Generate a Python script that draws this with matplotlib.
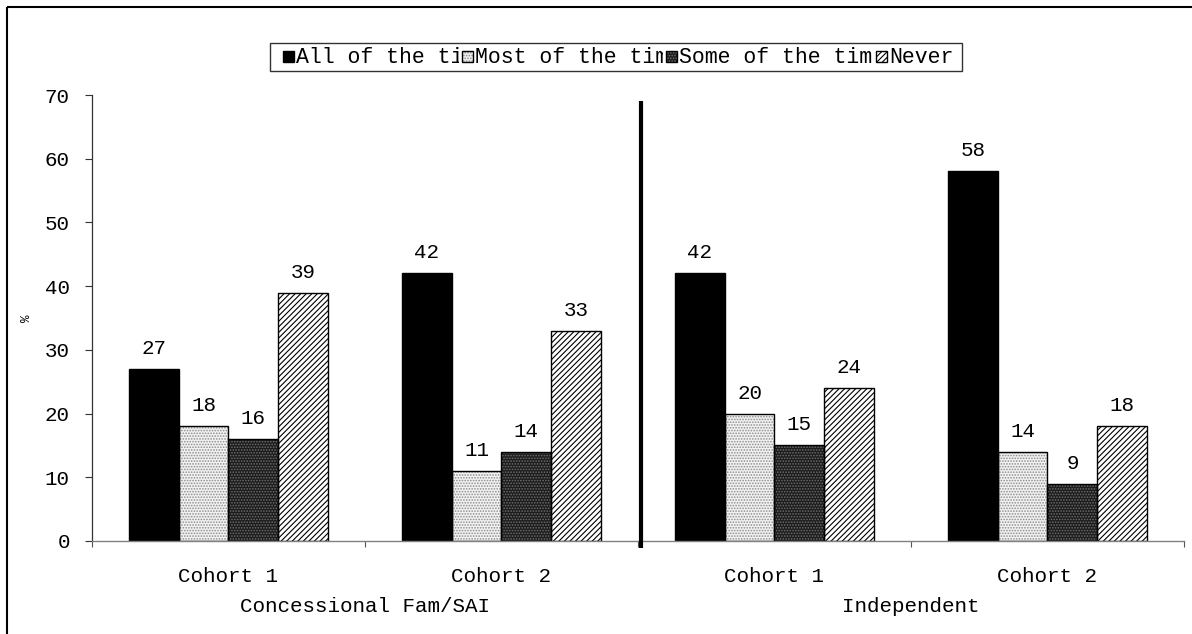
import matplotlib
matplotlib.use("Agg")
import matplotlib.pyplot as plt
from matplotlib.patches import Rectangle
from matplotlib.transforms import Bbox
import numpy as np

# ---- data -------------------------------------------------------------
categories = ["Cohort 1", "Cohort 2", "Cohort 1", "Cohort 2"]
groups = ["Concessional Fam/SAI", "Independent"]
series_names = ["All of the time", "Most of the time", "Some of the time", "Never"]
all_of_time = [27, 42, 42, 58]
most_of_time = [18, 11, 20, 14]
some_of_time = [16, 14, 15, 9]
never = [39, 33, 24, 18]
y_ticks = [0, 10, 20, 30, 40, 50, 60, 70]

series_values = [all_of_time, most_of_time, some_of_time, never]

# ---- styling ----------------------------------------------------------
FONT = ["Liberation Mono", "DejaVu Sans Mono"]
FS = 15
FS_LEG = 15.5
plt.rcParams["font.family"] = FONT
plt.rcParams["hatch.linewidth"] = 0.8

styles = [
    dict(face="black", hatch=None, hcolor=None),
    dict(face="#f2f2f2", hatch="......", hcolor="#8c8c8c"),
    dict(face="#1c1c1c", hatch="......", hcolor="#6e6e6e"),
    dict(face="white", hatch="//////", hcolor="black"),
]

W, H = 1192, 634
fig = plt.figure(figsize=(W / 100, H / 100), dpi=100)
ax = fig.add_axes([92 / W, 1 - 541 / H, 1092 / W, 446 / H])

n_cat = len(categories)
n_ser = len(series_values)
bar_w = 0.1825
centers = np.arange(n_cat) + 0.5


def layered_bar(axis, x, h, w, st, z=2):
    axis.bar(x, h, w, color=st["face"], edgecolor="none", linewidth=0, zorder=z)
    if st["hatch"]:
        axis.bar(x, h, w, color="none", edgecolor=st["hcolor"], hatch=st["hatch"],
                 linewidth=0, zorder=z + 0.1)
    axis.bar(x, h, w, color="none", edgecolor="black", linewidth=1.0, zorder=z + 0.2)


for i, (vals, st) in enumerate(zip(series_values, styles)):
    xs = centers + (i - (n_ser - 1) / 2) * bar_w
    layered_bar(ax, xs, vals, bar_w, st)
    for x, v in zip(xs, vals):
        ax.annotate(str(v), (x, v), xytext=(0, 10.8), textcoords="offset points",
                    ha="center", va="baseline", fontsize=FS, color="black")

ax.set_xlim(0, n_cat)
ax.set_ylim(0, 70)

for side in ("top", "right"):
    ax.spines[side].set_visible(False)
ax.spines["left"].set_color("#333333")
ax.spines["left"].set_linewidth(0.9)
ax.spines["bottom"].set_color("#808080")
ax.spines["bottom"].set_linewidth(1.0)

ax.set_yticks(y_ticks)
ax.set_yticklabels([str(t) for t in y_ticks], fontsize=FS)
ax.tick_params(axis="y", direction="out", length=5, width=0.8, color="#333333", pad=11)

# category boundary ticks and centred category labels
ax.set_xticks(np.arange(n_cat + 1))
ax.set_xticklabels([])
ax.tick_params(axis="x", which="major", direction="out", length=4.5, width=0.8, color="#555555")
ax.set_xticks(centers, minor=True)
ax.set_xticklabels(categories, minor=True, fontsize=FS)
ax.tick_params(axis="x", which="minor", length=0, pad=19)

# group labels under the category labels
for gi, g in enumerate(groups):
    gx = (centers[2 * gi] + centers[2 * gi + 1]) / 2
    ax.text(gx, -10.3, g, ha="center", va="center", fontsize=FS,
            transform=ax.transData, clip_on=False)

# divider between the two groups
ax.plot([2.01, 2.01], [-1.1, 69.0], color="black", linewidth=3.0,
        clip_on=False, zorder=5, solid_capstyle="butt")

fig.text(27 / W, 1 - 318 / H, "%", rotation=90, ha="center", va="center", fontsize=9)

# overlay axes in pixel coordinates for frame and legend
lax = fig.add_axes([0, 0, 1, 1], facecolor="none")
lax.set_xlim(0, W)
lax.set_ylim(H, 0)
lax.axis("off")

# outer frame (only its left and top edges fall inside the canvas)
lax.add_patch(Rectangle((7, 7), W + 50, H + 50, facecolor="none", edgecolor="black",
                        linewidth=1.5, clip_on=False))

# legend box: one row, each label clipped at the next entry's swatch
lx0, lx1, ly0, ly1 = 270, 962, 43, 71
lax.add_patch(Rectangle((lx0, ly0), lx1 - lx0, ly1 - ly0, facecolor="white",
                        edgecolor="#333333", linewidth=1.0, zorder=1))
marker_left = [283, 462, 666, 876]
msz = 11
stops = [m - 3 for m in marker_left[1:]] + [lx1 - 1]
for mx, stop, name, st in zip(marker_left, stops, series_names, styles):
    t = lax.text(mx + msz + 2, 57.5, name, ha="left", va="center", fontsize=FS_LEG, zorder=2)
    clip_px = Bbox.from_extents(mx + msz, H - ly1, stop, H - ly0)
    t.set_clip_box(clip_px)
    t.set_clip_on(True)
    lax.add_patch(Rectangle((mx, 51), msz, msz, facecolor=st["face"], edgecolor="none",
                            lw=0, zorder=3))
    if st["hatch"]:
        lax.add_patch(Rectangle((mx, 51), msz, msz, facecolor="none", edgecolor=st["hcolor"],
                                hatch=st["hatch"], lw=0, zorder=3.1))
    lax.add_patch(Rectangle((mx, 51), msz, msz, facecolor="none", edgecolor="black",
                            lw=1.0, zorder=3.2))

fig.savefig("out.png", dpi=100, facecolor="white")
